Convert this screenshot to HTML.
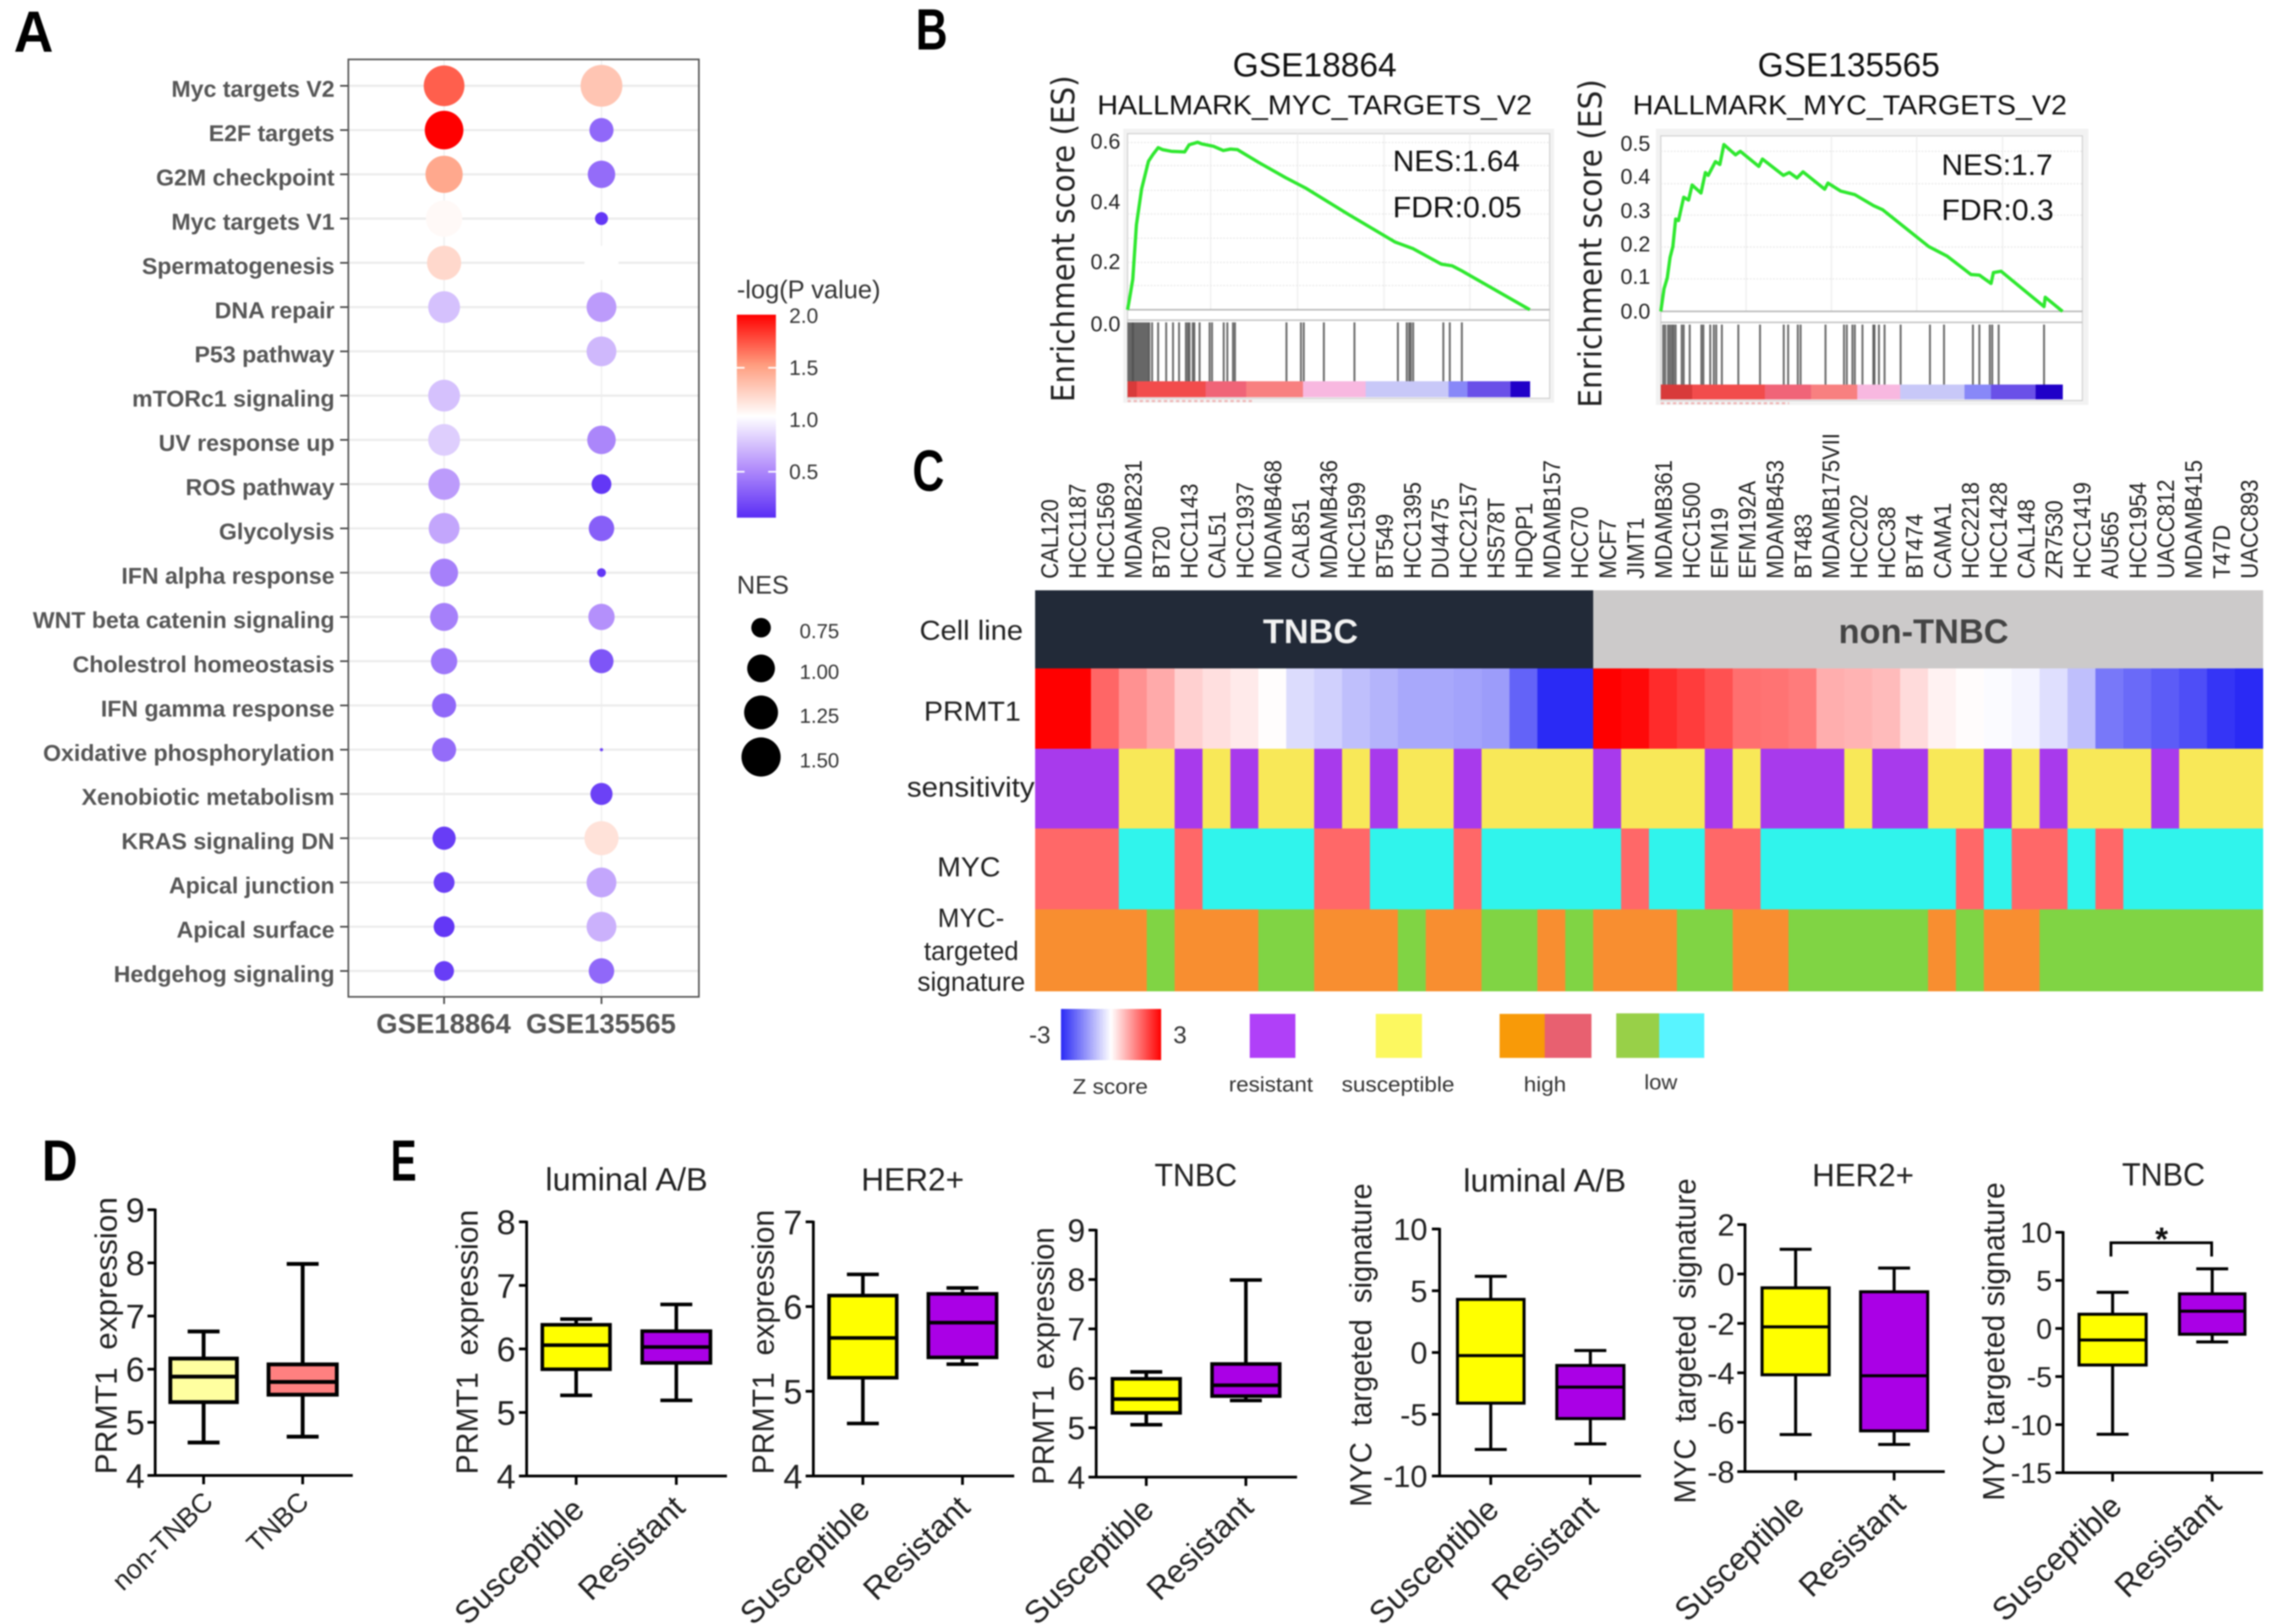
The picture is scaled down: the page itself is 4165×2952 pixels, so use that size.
<!DOCTYPE html>
<html lang="en">
<head>
<meta charset="utf-8">
<title>PRMT1 and MYC signature figure</title>
<style>
html,body{margin:0;padding:0;background:#fff}
svg{display:block;font-family:"Liberation Sans",sans-serif;filter:blur(1.2px)}
</style>
</head>
<body>
<svg id="fig" xmlns="http://www.w3.org/2000/svg" width="4165" height="2952" viewBox="0 0 4165 2952">
<defs>
<linearGradient id="logpGrad" x1="0" y1="0" x2="0" y2="1">
<stop offset="0" stop-color="#ff0000"/><stop offset="0.25" stop-color="#ff9e80"/><stop offset="0.5" stop-color="#ffffff"/><stop offset="0.75" stop-color="#b490fb"/><stop offset="1" stop-color="#5a2df5"/>
</linearGradient>
<linearGradient id="zGrad" x1="0" y1="0" x2="1" y2="0">
<stop offset="0" stop-color="#2a2af5"/><stop offset="0.5" stop-color="#ffffff"/><stop offset="1" stop-color="#ff0000"/>
</linearGradient>
</defs>
<rect width="4165" height="2952" fill="#fff"/>

<g font-weight="700" font-size="106" fill="#000">
<text x="25" y="94" textLength="72" lengthAdjust="spacingAndGlyphs">A</text>
<text x="1664" y="90" textLength="58" lengthAdjust="spacingAndGlyphs">B</text>
<text x="1658" y="892" textLength="58" lengthAdjust="spacingAndGlyphs">C</text>
<text x="76" y="2146" textLength="65" lengthAdjust="spacingAndGlyphs">D</text>
<text x="710" y="2146" textLength="47" lengthAdjust="spacingAndGlyphs">E</text>
</g>

<g id="panelA">
<text x="1339" y="542" font-size="46" fill="#333" textLength="261" lengthAdjust="spacingAndGlyphs">-log(P value)</text>
<rect x="1339" y="572" width="71" height="369" fill="url(#logpGrad)"/>
<text x="1339" y="1079" font-size="46" fill="#333">NES</text>
</g>

<g id="panelB">
<text x="2240" y="139" font-size="61" fill="#111" textLength="298" lengthAdjust="spacingAndGlyphs">GSE18864</text>
<text x="1994" y="208" font-size="50" fill="#111" textLength="790" lengthAdjust="spacingAndGlyphs">HALLMARK_MYC_TARGETS_V2</text>
<text transform="translate(1952,731) rotate(-90)" font-family="DejaVu Sans" font-size="58" fill="#222" textLength="594" lengthAdjust="spacingAndGlyphs">Enrichment score (ES)</text>
<text x="3194" y="139" font-size="61" fill="#111" textLength="331" lengthAdjust="spacingAndGlyphs">GSE135565</text>
<text x="2967" y="208" font-size="50" fill="#111" textLength="789" lengthAdjust="spacingAndGlyphs">HALLMARK_MYC_TARGETS_V2</text>
<text transform="translate(2910,741) rotate(-90)" font-family="DejaVu Sans" font-size="58" fill="#222" textLength="597" lengthAdjust="spacingAndGlyphs">Enrichment score (ES)</text>
</g>

<g id="panelC">
<g id="heatCells"></g>
<g id="heatLabels" font-size="44" fill="#222"></g>
<text x="2295" y="1169" font-size="62" font-weight="700" fill="#f2f2f2" textLength="173" lengthAdjust="spacingAndGlyphs">TNBC</text>
<text x="3341" y="1169" font-size="62" font-weight="700" fill="#444" textLength="309" lengthAdjust="spacingAndGlyphs">non-TNBC</text>
<g font-size="50" fill="#222">
<text x="1671" y="1163" textLength="188" lengthAdjust="spacingAndGlyphs">Cell line</text>
<text x="1679" y="1310" textLength="176" lengthAdjust="spacingAndGlyphs">PRMT1</text>
<text x="1648" y="1448" textLength="232" lengthAdjust="spacingAndGlyphs">sensitivity</text>
<text x="1703" y="1593" textLength="115" lengthAdjust="spacingAndGlyphs">MYC</text>
<text x="1704" y="1685" textLength="121" lengthAdjust="spacingAndGlyphs" font-size="48">MYC-</text>
<text x="1679" y="1745" textLength="172" lengthAdjust="spacingAndGlyphs" font-size="48">targeted</text>
<text x="1667" y="1801" textLength="196" lengthAdjust="spacingAndGlyphs" font-size="48">signature</text>
</g>
<g fill="#333">
<rect x="1928" y="1834" width="182" height="93" fill="url(#zGrad)"/>
<text x="1909" y="1896" text-anchor="end" font-size="44">-3</text>
<text x="2132" y="1896" font-size="44">3</text>
<text x="1949" y="1988" font-size="38" textLength="137" lengthAdjust="spacingAndGlyphs">Z score</text>
<rect x="2271" y="1843" width="83" height="80" fill="#b040f8"/>
<text x="2233" y="1984" font-size="38" textLength="153" lengthAdjust="spacingAndGlyphs">resistant</text>
<rect x="2500" y="1843" width="84" height="80" fill="#fcf860"/>
<text x="2438" y="1984" font-size="38" textLength="205" lengthAdjust="spacingAndGlyphs">susceptible</text>
<rect x="2725" y="1843" width="82" height="80" fill="#f89a08"/>
<rect x="2807" y="1843" width="85" height="80" fill="#e86070"/>
<text x="2769" y="1984" font-size="38" textLength="77" lengthAdjust="spacingAndGlyphs">high</text>
<rect x="2937" y="1842" width="78" height="81" fill="#98d048"/>
<rect x="3015" y="1842" width="82" height="81" fill="#58f4ff"/>
<text x="2988" y="1980" font-size="38" textLength="60" lengthAdjust="spacingAndGlyphs">low</text>
</g>
</g>

<g id="panelBox"></g>
</svg>

<script>
/* ---------- Panel A data ---------- */
const bubbleCategories = ['Myc targets V2','E2F targets','G2M checkpoint','Myc targets V1','Spermatogenesis','DNA repair','P53 pathway','mTORc1 signaling','UV response up','ROS pathway','Glycolysis','IFN alpha response','WNT beta catenin signaling','Cholestrol homeostasis','IFN gamma response','Oxidative phosphorylation','Xenobiotic metabolism','KRAS signaling DN','Apical junction','Apical surface','Hedgehog signaling'];
const bubbleDatasets = ['GSE18864','GSE135565'];
const gse18864Nes = [1.58,1.47,1.40,1.36,1.26,1.16,null,1.16,1.16,1.14,1.12,1.01,1.01,0.95,0.88,0.88,null,0.85,0.785,0.785,0.756];
const gse135565Nes = [1.64,0.88,0.99,0.61,1.26,1.08,1.08,null,1.03,0.756,0.92,0.55,0.95,0.88,null,0.507,0.82,1.26,1.08,1.08,0.92];
const gse18864LogP = [1.7,2.0,1.45,1.03,1.2,0.72,null,0.72,0.78,0.55,0.6,0.42,0.42,0.38,0.3,0.32,null,0.08,0.1,0.05,0.08];
const gse135565LogP = [1.3,0.3,0.32,0.05,1.0,0.55,0.68,null,0.45,0.05,0.25,0.05,0.5,0.2,null,0.1,0.1,1.15,0.6,0.65,0.3];
const colorTickValues = [2.0,1.5,1.0,0.5];
const sizeLegendValues = [0.75,1.00,1.25,1.50];

/* ---------- Panel B data ---------- */
const gseaLeftRank = [0,0.5,1.3,2.2,3.5,5.2,6.3,7.6,8.7,10.9,14.2,15.3,17.4,18.5,21.3,23.8,25.6,27.3,32.7,39.3,44.2,54.5,66.5,70.9,78,80.7,83.1,100];
const gseaLeftEs = [0,0.04,0.108,0.30,0.427,0.524,0.548,0.572,0.565,0.559,0.557,0.582,0.591,0.585,0.577,0.562,0.567,0.565,0.519,0.466,0.430,0.340,0.239,0.216,0.161,0.155,0.137,0];
const gseaLeftHits = [0.2,0.6,1,1.3,1.5,1.9,2.3,2.7,3.1,3.5,3.9,4.3,4.7,5.1,5.4,6.1,7.6,9.6,11.3,12.8,14.5,15,15.4,16.2,16.6,17.9,20.4,21,23.9,24.8,26.2,26.7,39.5,43.1,43.8,48.8,56.4,67.2,69.4,70,70.4,71,78.5,80.1,83.1];
const gseaLeftTicks = ['0.6','0.4','0.2','0.0'];
const gseaRightRank = [0,0.8,1.6,2.3,3,3.7,4.4,5.7,6.9,7.8,10,11.1,11.8,13.6,14.7,15.7,18.6,19.8,24.4,25.3,30.5,32,33.9,35.4,40.8,41.6,44.8,48.3,52.9,55.2,66.7,71.3,77.2,79.3,82.2,82.8,84.7,95.4,95.7,100];
const gseaRightEs = [0,0.07,0.104,0.168,0.202,0.288,0.283,0.356,0.347,0.394,0.369,0.433,0.424,0.467,0.458,0.52,0.488,0.499,0.452,0.475,0.424,0.433,0.416,0.435,0.381,0.40,0.375,0.364,0.33,0.317,0.202,0.172,0.115,0.113,0.087,0.121,0.125,0.015,0.044,0];
const gseaRightHits = [0.6,1.1,1.8,2.3,2.8,3.2,3.7,5.2,5.7,7.2,10.1,10.6,12.3,13.2,13.8,15.2,19.3,24.7,30.6,31.7,34.1,34.8,41,45.6,46.3,47.7,48.3,50.2,52.9,53.2,54.3,55.7,59.7,67,70.5,77.7,79.3,81.9,82.5,84.1,95.4];
const gseaRightTicks = ['0.5','0.4','0.3','0.2','0.1','0.0'];
const bandColors = ['#d83a3a','#f24c4c','#f06478','#f88080','#f8b8e0','#c8c8f8','#8888f8','#6a50e8','#2000c8'];
const gseaLeftBandEnds = [2.3,19.4,29.5,43.6,59.2,79.8,84.5,95.2,100];
const gseaRightBandEnds = [7.8,25.9,37.4,48.9,59.6,75.6,82.2,93.3,100];

/* ---------- Panel C data ---------- */
const tnbcCellLines = ['CAL120','HCC1187','HCC1569','MDAMB231','BT20','HCC1143','CAL51','HCC1937','MDAMB468','CAL851','MDAMB436','HCC1599','BT549','HCC1395','DU4475','HCC2157','HS578T','HDQP1','MDAMB157','HCC70'];
const nonTnbcCellLines = ['MCF7','JIMT1','MDAMB361','HCC1500','EFM19','EFM192A','MDAMB453','BT483','MDAMB175VII','HCC202','HCC38','BT474','CAMA1','HCC2218','HCC1428','CAL148','ZR7530','HCC1419','AU565','HCC1954','UACC812','MDAMB415','T47D','UACC893'];
const prmt1Z = [3,3,1.8,1.3,1.0,0.55,0.38,0.25,0.02,-0.5,-0.66,-0.9,-1.06,-1.23,-1.23,-1.3,-1.4,-2.2,-3,-3, 3,2.9,2.5,2.3,2.05,1.7,1.65,1.55,0.95,0.9,0.8,0.42,0.15,0.03,-0.05,-0.15,-0.45,-0.9,-1.9,-2.1,-2.3,-2.5,-2.85,-3];
const sensitivityCalls = ['R','R','R','S','S','R','S','R','S','S','R','S','R','S','S','R','S','S','S','S', 'R','S','S','S','R','S','R','R','R','S','R','R','S','S','R','S','R','S','S','S','R','S','S','S'];
const mycCalls = ['H','H','H','L','L','H','L','L','L','L','H','H','L','L','L','H','L','L','L','L', 'L','H','L','L','H','H','L','L','L','L','L','L','L','H','L','H','H','L','H','L','L','L','L','L'];
const signatureCalls = ['H','H','H','H','L','H','H','H','L','L','H','H','H','L','H','H','L','L','H','L', 'H','H','H','L','L','H','H','L','L','L','L','L','H','L','H','H','L','L','L','L','L','L','L','L'];

/* ---------- Panels D / E data: [lower whisker, q1, median, q3, upper whisker] ---------- */
const groupsD = ['non-TNBC','TNBC'];
const groupsE = ['Susceptible','Resistant'];
const ticksPrmtD = [4,5,6,7,8,9];
const nonTnbcPrmt1 = [4.62,5.38,5.86,6.2,6.71];
const tnbcPrmt1 = [4.73,5.52,5.76,6.09,7.98];
const ticksLumPrmt = [4,5,6,7,8];
const lumPrmtSusceptible = [5.27,5.68,6.06,6.38,6.47];
const lumPrmtResistant = [5.19,5.78,6.03,6.28,6.70];
const ticksHerPrmt = [4,5,6,7];
const herPrmtSusceptible = [4.62,5.16,5.63,6.13,6.38];
const herPrmtResistant = [5.32,5.40,5.81,6.15,6.22];
const ticksTnbcPrmt = [4,5,6,7,8,9];
const tnbcPrmtSusceptible = [5.06,5.30,5.58,5.99,6.13];
const tnbcPrmtResistant = [5.55,5.64,5.86,6.29,7.99];
const ticksLumMyc = [-10,-5,0,5,10];
const lumMycSusceptible = [-7.85,-4.1,-0.25,4.3,6.17];
const lumMycResistant = [-7.4,-5.35,-2.8,-1.05,0.16];
const ticksHerMyc = [-8,-6,-4,-2,0,2];
const herMycSusceptible = [-6.5,-4.08,-2.14,-0.56,1.0];
const herMycResistant = [-6.9,-6.35,-4.12,-0.72,0.24];
const ticksTnbcMyc = [-15,-10,-5,0,5,10];
const tnbcMycSusceptible = [-11.0,-3.8,-1.2,1.48,3.76];
const tnbcMycResistant = [-1.4,-0.6,1.8,3.6,6.2];

/* ---------- helpers ---------- */
const NS = 'http://www.w3.org/2000/svg';
function add(parent, tag, attrs, text) {
  const el = document.createElementNS(NS, tag);
  for (const k in attrs) el.setAttribute(k, attrs[k]);
  if (text !== undefined) el.textContent = text;
  parent.appendChild(el);
  return el;
}
function lerpHex(a, b, t) {
  const pa = [1,3,5].map(i => parseInt(a.substr(i,2),16));
  const pb = [1,3,5].map(i => parseInt(b.substr(i,2),16));
  return 'rgb(' + pa.map((v,i) => Math.round(v + (pb[i]-v)*t)).join(',') + ')';
}

/* ---------- Panel A ---------- */
(function () {
  const root = document.getElementById('panelA');
  const left = 633, right = 1270, top = 108, bottom = 1812;
  const colX = i => 807 + i * 286;
  const rowY = i => 156 + i * 80.45;
  const rScale = n => 38 * Math.sqrt(Math.max(n - 0.5, 0) / 1.14);
  const logpColor = v => {
    if (v >= 1.5) return lerpHex('#ff9e80', '#ff0000', (v - 1.5) / 0.5);
    if (v >= 1) return lerpHex('#ffffff', '#ff9e80', (v - 1) / 0.5);
    if (v >= 0.5) return lerpHex('#b490fb', '#ffffff', (v - 0.5) / 0.5);
    return lerpHex('#5a2df5', '#b490fb', v / 0.5);
  };
  const colorY = v => 574 + (2 - v) * 189;

  const panel = add(root, 'rect', {x:left,y:top,width:right-left,height:bottom-top,fill:'#fff'});
  
  

  bubbleCategories.forEach((c, i) => {
    const g = add(root, 'line', {x1:left,x2:right,y1:rowY(i),y2:rowY(i),stroke:'#ececec','stroke-width':4});
    
    
    const t = add(root, 'line', {x1:618,x2:left,y1:rowY(i),y2:rowY(i),stroke:'#444','stroke-width':3});
    
    
    const l = add(root, 'text', {x:608,y:rowY(i)+20,'text-anchor':'end','font-size':42,'font-weight':700,fill:'#565656'}, c);
    
    
  });
  bubbleDatasets.forEach((d, i) => {
    const g = add(root, 'line', {x1:colX(i),x2:colX(i),y1:top,y2:bottom,stroke:'#ececec','stroke-width':2});
    
    
    const t = add(root, 'line', {x1:colX(i),x2:colX(i),y1:bottom,y2:bottom+13,stroke:'#444','stroke-width':3});
    
    
    const l = add(root, 'text', {x:colX(i)-1,y:1878,'text-anchor':'middle','font-size':50,'font-weight':700,fill:'#565656'}, d);
    
    
  });
  const frame = add(root, 'rect', {x:left,y:top,width:right-left,height:bottom-top,fill:'none',stroke:'#555','stroke-width':3});
  
  

  [gse18864Nes, gse135565Nes].forEach((nes, col) => {
    const logp = col === 0 ? gse18864LogP : gse135565LogP;
    nes.forEach((n, i) => {
      if (n === null) return;
      const c = add(root, 'circle', {cx:colX(col),cy:rowY(i),r:rScale(n).toFixed(1),fill:logpColor(logp[i])});
      
      
    });
  });

  colorTickValues.forEach(v => {
    if (v === 1.5 || v === 0.5) {
      const a = add(root, 'line', {x1:1339,x2:1353,y1:colorY(v),y2:colorY(v),stroke:'#fff','stroke-width':3});
      
      
      const b = add(root, 'line', {x1:1396,x2:1410,y1:colorY(v),y2:colorY(v),stroke:'#fff','stroke-width':3});
      
      
    }
    const t = add(root, 'text', {x:1434,y:colorY(v)+13,'font-size':38,fill:'#333'}, v.toFixed(1));
    
    
  });

  const legendY = [1141,1215,1295,1376];
  sizeLegendValues.forEach((v, i) => {
    const c = add(root, 'circle', {cx:1383,cy:legendY[i],r:rScale(v).toFixed(1),fill:'#000'});
    
    
    const t = add(root, 'text', {x:1453,y:legendY[i]+19,'font-size':37,fill:'#333'}, v.toFixed(2));
    
    
  });
})();

/* ---------- Panel B ---------- */
(function () {
  const root = document.getElementById('panelB');
  const configs = [
    {rank:gseaLeftRank, es:gseaLeftEs, hits:gseaLeftHits, bands:gseaLeftBandEnds, ticks:gseaLeftTicks,
     tickY:[256,366,475,588], outer:[2041,234,2824,732], box:[2049,243,2816,724], endX:2780, zeroY:563, unit:515,
     hitTop:586, hitBottom:693, bandBottom:722, gridX:[2200,2358,2515,2671], gridY:[259,301,346,389,433,477,519], tickRight:2036,
     captionEnd:2280, captionY:729,
     nes:'NES:1.64', fdr:'FDR:0.05', nesX:2531, nesY:311, fdrY:395, nesW:231, fdrW:234},
    {rank:gseaRightRank, es:gseaRightEs, hits:gseaRightHits, bands:gseaRightBandEnds, ticks:gseaRightTicks,
     tickY:[260,320,382,443,502,565], outer:[3009,234,3795,736], box:[3018,247,3784,728], endX:3748, zeroY:566, unit:583,
     hitTop:590, hitBottom:699, bandBottom:726, gridX:[3173,3328,3483,3639], gridY:[275,334,391,449,507], tickRight:2999,
     captionEnd:3251, captionY:733,
     nes:'NES:1.7', fdr:'FDR:0.3', nesX:3528, nesY:318, fdrY:400, nesW:202, fdrW:204}
  ];
  configs.forEach(c => {
    const x = r => c.box[0] + r / 100 * (c.endX - c.box[0]);
    const y = v => c.zeroY - v * c.unit;
    const outer = add(root, 'rect', {x:c.outer[0],y:c.outer[1],width:c.outer[2]-c.outer[0],height:c.outer[3]-c.outer[1],fill:'#f2f2f2'});
    
    
    const box = add(root, 'rect', {x:c.box[0],y:c.box[1],width:c.box[2]-c.box[0],height:c.box[3]-c.box[1],fill:'#fff',stroke:'#d0d0d0','stroke-width':2});
    
    
    c.gridX.forEach(gx => {
      const g = add(root, 'line', {x1:gx,x2:gx,y1:c.box[1],y2:c.zeroY,stroke:'#ececec','stroke-width':2});
      
      
    });
    c.gridY.forEach(gy => {
      const g = add(root, 'line', {x1:c.box[0],x2:c.box[2],y1:gy,y2:gy,stroke:'#e6e6e6','stroke-width':2,'stroke-dasharray':'3 3'});
      
      
    });
    const zero = add(root, 'line', {x1:c.box[0],x2:c.box[2],y1:c.zeroY,y2:c.zeroY,stroke:'#bbb','stroke-width':3});
    
    
    const div = add(root, 'line', {x1:c.box[0],x2:c.box[2],y1:c.hitTop-4,y2:c.hitTop-4,stroke:'#c8c8c8','stroke-width':3});
    
    
    c.hits.forEach(h => {
      const l = add(root, 'line', {x1:x(h),x2:x(h),y1:c.hitTop,y2:c.hitBottom,stroke:'#4a4a4a','stroke-width':3.6,'stroke-opacity':0.8});
      
      
    });
    let prev = 0;
    c.bands.forEach((end, i) => {
      const b = add(root, 'rect', {x:x(prev),y:c.hitBottom,width:x(end)-x(prev)+0.5,height:c.bandBottom-c.hitBottom,fill:bandColors[i]});
      
      
      prev = end;
    });
    const cap = add(root, 'line', {x1:c.box[0],x2:c.captionEnd,y1:c.captionY,y2:c.captionY,stroke:'#f0b8b8','stroke-width':4,'stroke-dasharray':'6 5'});
    
    
    const pts = c.rank.map((r, i) => x(r).toFixed(1) + ',' + y(c.es[i]).toFixed(1)).join(' ');
    const curve = add(root, 'polyline', {points:pts,fill:'none',stroke:'#2fe82f','stroke-width':6,'stroke-linejoin':'round'});
    
    
    c.ticks.forEach((t, i) => {
      const l = add(root, 'text', {x:c.tickRight,y:c.tickY[i]+14,'text-anchor':'end','font-size':39,fill:'#222'}, t);
      
      
    });
    const n = add(root, 'text', {x:c.nesX,y:c.nesY,'font-size':54,fill:'#111',textLength:c.nesW,lengthAdjust:'spacingAndGlyphs'}, c.nes);
    
    
    const f = add(root, 'text', {x:c.nesX,y:c.fdrY,'font-size':54,fill:'#111',textLength:c.fdrW,lengthAdjust:'spacingAndGlyphs'}, c.fdr);
    
    
  });
})();

/* ---------- Panel C ---------- */
(function () {
  const cells = document.getElementById('heatCells');
  const labels = document.getElementById('heatLabels');
  const allLines = tnbcCellLines.concat(nonTnbcCellLines);
  const left = 1881, w = (4112 - 1881) / allLines.length;
  const x = i => left + i * w;
  const rows = [1073,1215,1361,1506,1653,1802];
  const sensitivityColor = {R:'#a83aec', S:'#f8e858'};
  const mycColor = {H:'#ff6868', L:'#30f4ec'};
  const signatureColor = {H:'#f88e30', L:'#80d444'};
  const zColor = z => z >= 0 ? lerpHex('#ffffff', '#ff0000', Math.min(z,3)/3) : lerpHex('#ffffff', '#2a2af5', Math.min(-z,3)/3);
  allLines.forEach((name, i) => {
    const isTnbc = i < tnbcCellLines.length;
    const hdr = add(cells, 'rect', {x:x(i),y:rows[0],width:w+0.6,height:rows[1]-rows[0],fill:isTnbc?'#222a38':'#cccaca'});
    
    
    const a = add(cells, 'rect', {x:x(i),y:rows[1],width:w+0.6,height:rows[2]-rows[1],fill:zColor(prmt1Z[i])});
    
    
    const b = add(cells, 'rect', {x:x(i),y:rows[2],width:w+0.6,height:rows[3]-rows[2],fill:sensitivityColor[sensitivityCalls[i]]});
    
    
    const c = add(cells, 'rect', {x:x(i),y:rows[3],width:w+0.6,height:rows[4]-rows[3],fill:mycColor[mycCalls[i]]});
    
    
    const d = add(cells, 'rect', {x:x(i),y:rows[4],width:w+0.6,height:rows[5]-rows[4],fill:signatureColor[signatureCalls[i]]});
    
    
    const t = add(labels, 'text', {transform:'translate(' + (x(i)+w/2+16).toFixed(1) + ',1052) rotate(-90)',lengthAdjust:'spacingAndGlyphs'}, name);
    t.setAttribute('textLength', (t.getComputedTextLength() * 0.91).toFixed(1));
    
    
  });
})();

/* ---------- Panels D / E ---------- */
const boxPanelConfigs = [
  {cats:groupsD, stats:[nonTnbcPrmt1,tnbcPrmt1], colors:['#ffffa0','#ff8080'], ticks:ticksPrmtD, title:null, yTitle:'PRMT1  expression',
   ax:282, xEnd:641, yTop:2199, yBot:2682, centers:[370,550], boxW:[121,124], tickRight:263, tickSize:62, sw:7,
   ytX:212, ytBottom:2680, ytLen:504, labelEnd:[[390,2733],[564,2733]], labelSize:49},
  {cats:groupsE, stats:[lumPrmtSusceptible,lumPrmtResistant], colors:['#ffff00','#aa00e6'], ticks:ticksLumPrmt, title:'luminal A/B', titleX:991, titleY:2164, titleW:295, yTitle:'PRMT1  expression',
   ax:957, xEnd:1321, yTop:2221, yBot:2683, centers:[1047,1229], boxW:[123,124], tickRight:937, tickSize:62, sw:6.5,
   ytX:868, ytBottom:2680, ytLen:481, labelEnd:[[1065,2748],[1248,2744]], labelSize:58},
  {cats:groupsE, stats:[herPrmtSusceptible,herPrmtResistant], colors:['#ffff00','#aa00e6'], ticks:ticksHerPrmt, title:'HER2+', titleX:1565, titleY:2164, titleW:187, yTitle:'PRMT1  expression',
   ax:1478, xEnd:1843, yTop:2221, yBot:2683, centers:[1568,1749], boxW:[123,124], tickRight:1458, tickSize:62, sw:6.5,
   ytX:1406, ytBottom:2680, ytLen:481, labelEnd:[[1584,2748],[1766,2744]], labelSize:58},
  {cats:groupsE, stats:[tnbcPrmtSusceptible,tnbcPrmtResistant], colors:['#ffff00','#aa00e6'], ticks:ticksTnbcPrmt, title:'TNBC', titleX:2098, titleY:2156, titleW:150, yTitle:'PRMT1  expression',
   ax:1992, xEnd:2357, yTop:2236, yBot:2685, centers:[2083,2264], boxW:[123,123], tickRight:1972, tickSize:58, sw:6.5,
   ytX:1915, ytBottom:2699, ytLen:468, labelEnd:[[2100,2748],[2281,2744]], labelSize:58},
  {cats:groupsE, stats:[lumMycSusceptible,lumMycResistant], colors:['#ffff00','#aa00e6'], ticks:ticksLumMyc, title:'luminal A/B', titleX:2659, titleY:2166, titleW:296, yTitle:'MYC  targeted  signature',
   ax:2616, xEnd:2982, yTop:2234, yBot:2683, centers:[2709,2890], boxW:[121,122], tickRight:2594, tickSize:56, sw:5.5,
   ytX:2492, ytBottom:2739, ytLen:588, labelEnd:[[2727,2748],[2908,2744]], labelSize:58},
  {cats:groupsE, stats:[herMycSusceptible,herMycResistant], colors:['#ffff00','#aa00e6'], ticks:ticksHerMyc, title:'HER2+', titleX:3293, titleY:2156, titleW:185, yTitle:'MYC  targeted  signature',
   ax:3171, xEnd:3534, yTop:2226, yBot:2675, centers:[3263,3442], boxW:[122,122], tickRight:3152, tickSize:56, sw:5.5,
   ytX:3081, ytBottom:2733, ytLen:591, labelEnd:[[3282,2742],[3466,2738]], labelSize:58},
  {cats:groupsE, stats:[tnbcMycSusceptible,tnbcMycResistant], colors:['#ffff00','#aa00e6'], ticks:ticksTnbcMyc, title:'TNBC', titleX:3856, titleY:2155, titleW:151, yTitle:'MYC targeted signature',
   ax:3749, xEnd:4112, yTop:2240, yBot:2677, centers:[3839,4020], boxW:[122,119], tickRight:3729, tickSize:52, sw:5.5,
   ytX:3642, ytBottom:2728, ytLen:579, labelEnd:[[3859,2742],[4040,2739]], labelSize:58, bracket:{x1:3836,x2:4019,y:2259,drop:25,starX:3928,starY:2273}}
];
(function () {
  const root = document.getElementById('panelBox');
  const black = '#000';
  boxPanelConfigs.forEach(p => {
    const g = add(root, 'g', {});
    
    
    const vMin = p.ticks[0], vMax = p.ticks[p.ticks.length - 1];
    const y = v => p.yBot - (v - vMin) / (vMax - vMin) * (p.yBot - p.yTop);

    if (p.title) {
      const t = add(g, 'text', {x:p.titleX,y:p.titleY,'font-size':58,fill:'#222',textLength:p.titleW,lengthAdjust:'spacingAndGlyphs'}, p.title);
      
      
    }
    const yt = add(g, 'text', {transform:'translate(' + p.ytX + ',' + p.ytBottom + ') rotate(-90)','font-size':56,fill:'#222',textLength:p.ytLen,lengthAdjust:'spacingAndGlyphs',style:'white-space:pre'}, p.yTitle);
    
    

    const yAxis = add(g, 'line', {x1:p.ax,x2:p.ax,y1:p.yTop-2,y2:p.yBot+2,stroke:black,'stroke-width':5});
    
    
    const xAxis = add(g, 'line', {x1:p.ax,x2:p.xEnd,y1:p.yBot,y2:p.yBot,stroke:black,'stroke-width':5});
    
    

    p.ticks.forEach(v => {
      const t = add(g, 'line', {x1:p.ax-14,x2:p.ax,y1:y(v),y2:y(v),stroke:black,'stroke-width':5});
      
      
      const l = add(g, 'text', {x:p.tickRight,y:y(v)+p.tickSize*0.36,'text-anchor':'end','font-size':p.tickSize,fill:'#222'}, String(v));
      
      
    });

    p.cats.forEach((cat, i) => {
      const cx = p.centers[i], bw = p.boxW[i], s = p.stats[i];
      const t = add(g, 'line', {x1:cx,x2:cx,y1:p.yBot,y2:p.yBot+16,stroke:black,'stroke-width':5});
      
      
      const lab = add(g, 'text', {transform:'translate(' + p.labelEnd[i][0] + ',' + p.labelEnd[i][1] + ') rotate(-44)','text-anchor':'end','font-size':p.labelSize,fill:'#222'}, cat);
      
      

      const w1 = add(g, 'line', {x1:cx,x2:cx,y1:y(s[0]),y2:y(s[1]),stroke:black,'stroke-width':p.sw});
      
      
      const w2 = add(g, 'line', {x1:cx,x2:cx,y1:y(s[3]),y2:y(s[4]),stroke:black,'stroke-width':p.sw});
      
      
      const c1 = add(g, 'line', {x1:cx-29,x2:cx+29,y1:y(s[0]),y2:y(s[0]),stroke:black,'stroke-width':p.sw});
      
      
      const c2 = add(g, 'line', {x1:cx-29,x2:cx+29,y1:y(s[4]),y2:y(s[4]),stroke:black,'stroke-width':p.sw});
      
      
      const box = add(g, 'rect', {x:cx-bw/2,y:y(s[3]),width:bw,height:y(s[1])-y(s[3]),fill:p.colors[i],stroke:black,'stroke-width':p.sw});
      
      
      const med = add(g, 'line', {x1:cx-bw/2,x2:cx+bw/2,y1:y(s[2]),y2:y(s[2]),stroke:black,'stroke-width':p.sw});
      
      
    });

    if (p.bracket) {
      const b = p.bracket;
      const br = add(g, 'polyline', {points:[b.x1,b.y+b.drop,b.x1,b.y,b.x2,b.y,b.x2,b.y+b.drop].join(' '),fill:'none',stroke:black,'stroke-width':5});
      
      
      const st = add(g, 'text', {x:b.starX,y:b.starY,'text-anchor':'middle','font-size':60,'font-weight':700,fill:'#111'}, '*');
      
      
    }
  });
})();
</script>
</body>
</html>
